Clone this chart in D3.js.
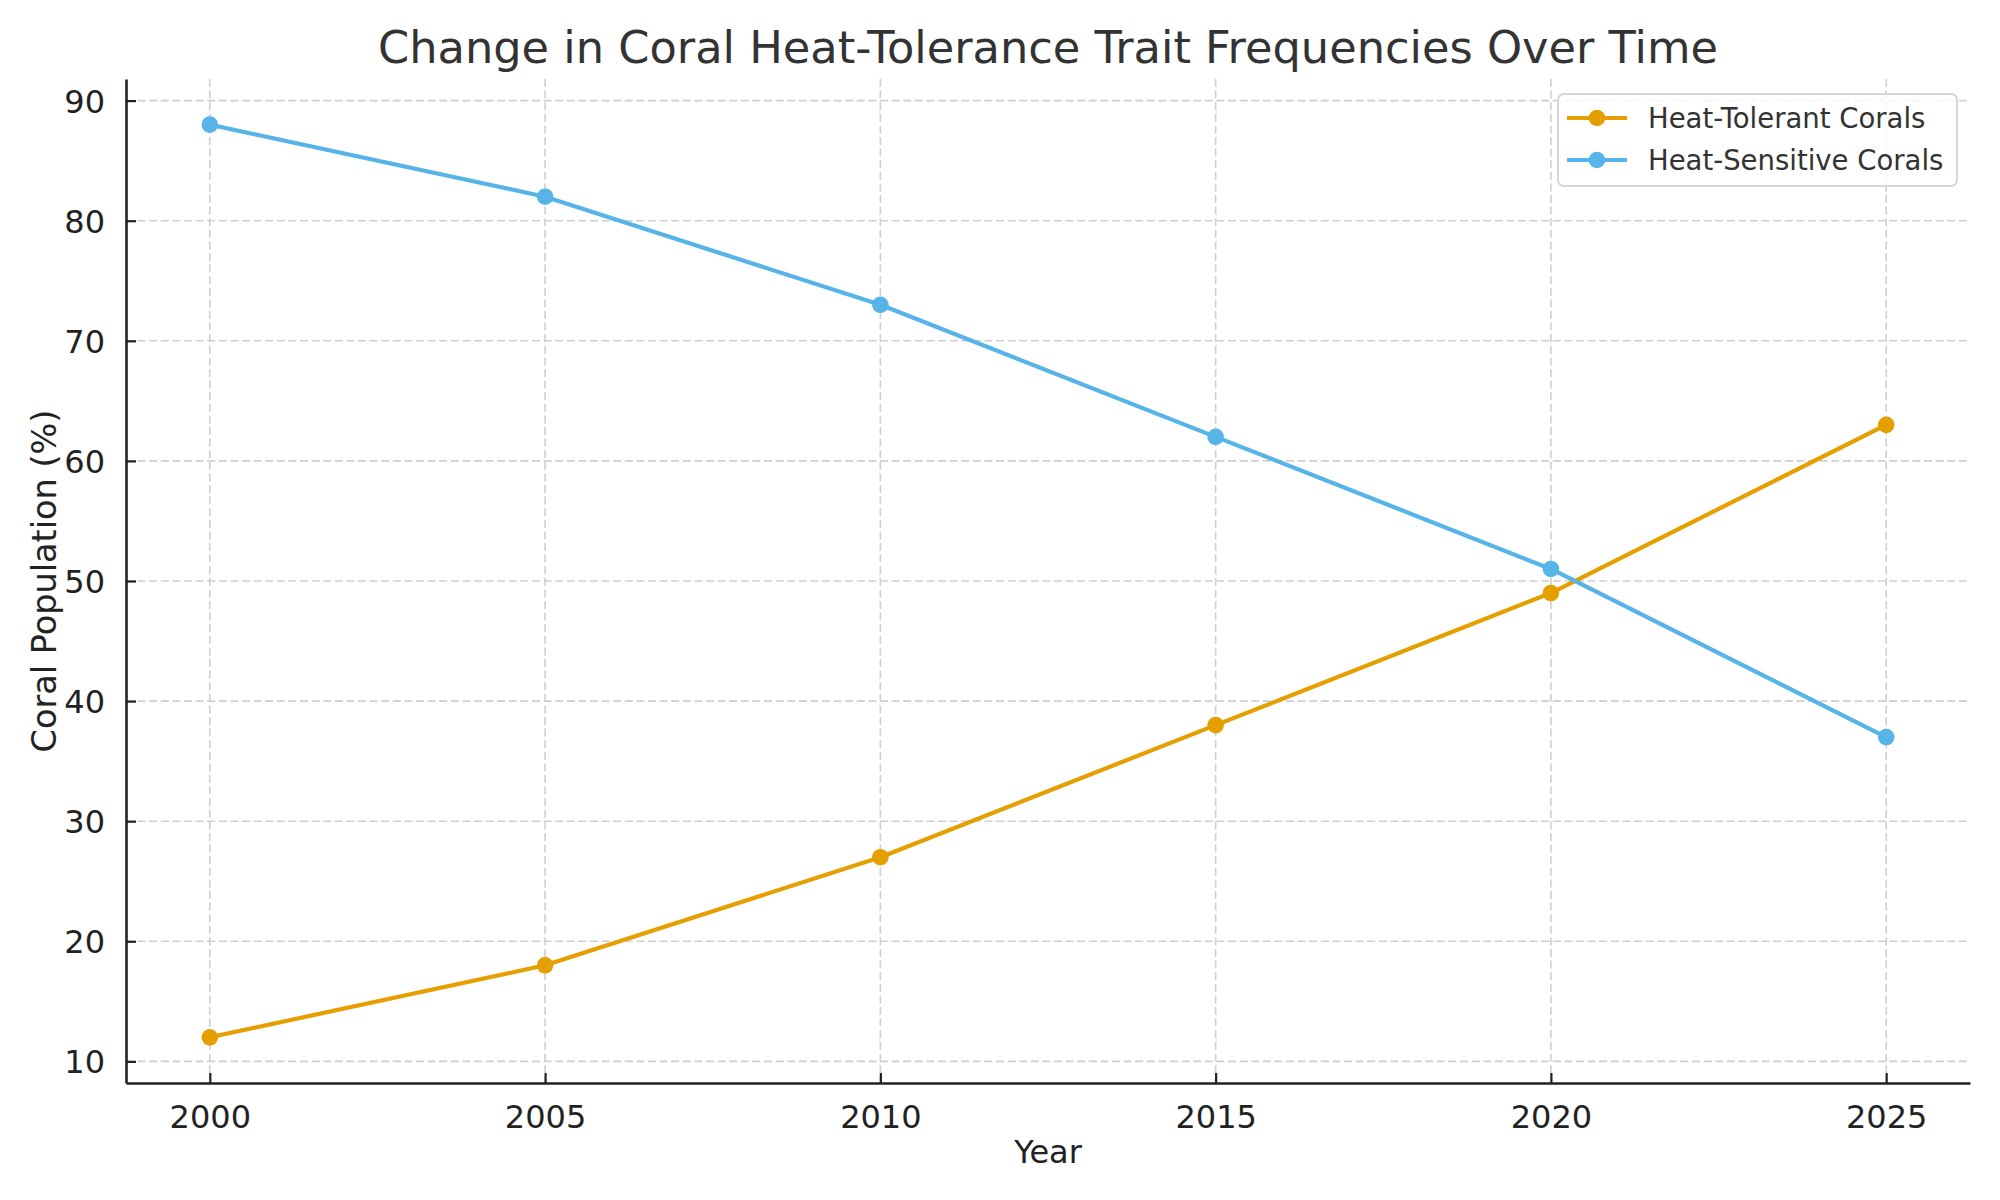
<!DOCTYPE html>
<html>
<head>
<meta charset="utf-8">
<script src="https://cdn.jsdelivr.net/npm/d3@7"></script>
<style>
  html, body { margin: 0; padding: 0; background: #fff; }
  svg { display: block; }
  text { font-family: "DejaVu Sans", sans-serif; }
</style>
</head>
<body>
<svg id="chart" width="2000" height="1200"></svg>
<script>
const years = [2000, 2005, 2010, 2015, 2020, 2025];
const heatTolerant = [12, 18, 27, 38, 49, 63];
const heatSensitive = [88, 82, 73, 62, 51, 37];
const yTicks = [10, 20, 30, 40, 50, 60, 70, 80, 90];
const seriesNames = ["Heat-Tolerant Corals", "Heat-Sensitive Corals"];
const seriesColors = ["#E69F00", "#56B4E9"];
const titleText = "Change in Coral Heat-Tolerance Trait Frequencies Over Time";
const xLabel = "Year";
const yLabel = "Coral Population (%)";

const series = [
  { name: seriesNames[0], color: seriesColors[0], values: heatTolerant },
  { name: seriesNames[1], color: seriesColors[1], values: heatSensitive }
];

const svg = d3.select("#chart");
const m = { left: 126, right: 1970, top: 79, bottom: 1083 };

const allVals = heatTolerant.concat(heatSensitive);
const yMin = d3.min(allVals), yMax = d3.max(allVals);
const yPad = (yMax - yMin) * 0.05;
const xPad = (d3.max(years) - d3.min(years)) * 0.05;

const x = d3.scaleLinear().domain([d3.min(years) - xPad, d3.max(years) + xPad]).range([m.left, m.right]);
const y = d3.scaleLinear().domain([yMin - yPad, yMax + yPad]).range([m.bottom, m.top]);

// grid
const grid = svg.append("g").attr("stroke", "#cfcfcf").attr("stroke-width", 1.6).attr("stroke-dasharray", "8,3.6");
grid.selectAll("line.gx").data(years).join("line")
  .attr("x1", d => x(d)).attr("x2", d => x(d)).attr("y1", m.top).attr("y2", m.bottom);
grid.selectAll("line.gy").data(yTicks).join("line")
  .attr("y1", d => y(d)).attr("y2", d => y(d)).attr("x1", m.left).attr("x2", m.right);

// axes
const xAxis = d3.axisBottom(x).tickValues(years).tickFormat(d3.format("d")).tickSizeInner(-10).tickSizeOuter(0).tickPadding(22);
const yAxis = d3.axisLeft(y).tickValues(yTicks).tickSizeInner(-10).tickSizeOuter(0).tickPadding(21);

const gx = svg.append("g").attr("transform", `translate(0,${m.bottom})`).call(xAxis);
const gy = svg.append("g").attr("transform", `translate(${m.left},0)`).call(yAxis);
[gx, gy].forEach(g => {
  g.select(".domain").attr("stroke", "#222").attr("stroke-width", 2.6);
  g.selectAll(".tick line").attr("stroke", "#222").attr("stroke-width", 2.2);
  g.selectAll(".tick text").attr("fill", "#222").style("font-size", "32px").style("font-family", "DejaVu Sans");
});
gx.selectAll(".tick text").attr("dy", "0.71em");
gy.selectAll(".tick text").attr("dy", "0.36em");

// lines
const line = d3.line().x((d, i) => x(years[i])).y(d => y(d));
series.forEach(s => {
  svg.append("path").datum(s.values).attr("d", line)
    .attr("fill", "none").attr("stroke", s.color).attr("stroke-width", 4.2)
    .attr("stroke-linejoin", "round").attr("stroke-linecap", "square");
  svg.append("g").selectAll("circle").data(s.values).join("circle")
    .attr("cx", (d, i) => x(years[i])).attr("cy", d => y(d)).attr("r", 8.3).attr("fill", s.color);
});

// title and labels
svg.append("text").attr("x", (m.left + m.right) / 2).attr("y", 63).attr("text-anchor", "middle")
  .attr("fill", "#333").style("font-size", "44.7px").text(titleText);
svg.append("text").attr("x", (m.left + m.right) / 2).attr("y", 1163).attr("text-anchor", "middle")
  .attr("fill", "#222").style("font-size", "32px").text(xLabel);
svg.append("text").attr("transform", `translate(56,${(m.top + m.bottom) / 2}) rotate(-90)`).attr("text-anchor", "middle")
  .attr("fill", "#222").style("font-size", "33.5px").text(yLabel);

// legend
const lg = svg.append("g");
lg.append("rect").attr("x", 1558).attr("y", 94).attr("width", 399).attr("height", 92).attr("rx", 6)
  .attr("fill", "#fff").attr("fill-opacity", 0.8).attr("stroke", "#d6d6d6").attr("stroke-width", 2);
series.forEach((s, i) => {
  const cy = 118 + i * 42;
  lg.append("line").attr("x1", 1567).attr("x2", 1627).attr("y1", cy).attr("y2", cy)
    .attr("stroke", s.color).attr("stroke-width", 4.2);
  lg.append("circle").attr("cx", 1597).attr("cy", cy).attr("r", 8.3).attr("fill", s.color);
  lg.append("text").attr("x", 1648).attr("y", cy).attr("dy", "0.36em").attr("fill", "#333")
    .style("font-size", "27.5px").text(s.name);
});
</script>
</body>
</html>
